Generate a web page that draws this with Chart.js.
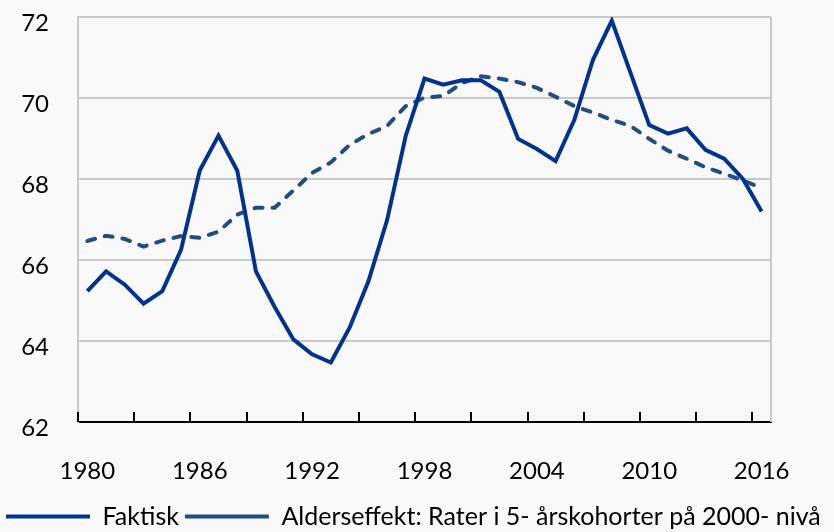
<!DOCTYPE html>
<html lang="no">
<head>
  <meta charset="UTF-8">
  <title>Faktisk og alderseffekt</title>
  <script src="https://cdn.jsdelivr.net/npm/chart.js"></script>
  <style>
    html, body { margin: 0; padding: 0; background: #f9f9f9; }
    #wrap { width: 834px; height: 532px; position: relative; }
  </style>
</head>
<body>
  <div id="wrap"><canvas id="chart"></canvas></div>

  <script>
    const years = [];
    for (let y = 1980; y <= 2016; y++) years.push(String(y));

    const faktisk = [
      65.23, 65.72, 65.39, 64.92, 65.23, 66.25, 68.21, 69.07, 68.21, 65.72,
      64.84, 64.04, 63.67, 63.47, 64.33, 65.47, 66.98, 69.07, 70.48, 70.33,
      70.44, 70.44, 70.15, 68.99, 68.74, 68.44, 69.46, 70.95, 71.91, 70.62,
      69.33, 69.12, 69.25, 68.72, 68.50, 68.00, 67.20
    ];

    const alderseffekt = [
      66.47, 66.60, 66.52, 66.33, 66.48, 66.59, 66.55, 66.70, 67.12, 67.29,
      67.29, 67.72, 68.15, 68.41, 68.84, 69.11, 69.31, 69.80, 70.01, 70.05,
      70.37, 70.54, 70.48, 70.39, 70.25, 70.03, 69.80, 69.64, 69.46, 69.31,
      68.99, 68.70, 68.50, 68.29, 68.13, 67.96, 67.78
    ];

    const yTicks = [62, 64, 66, 68, 70, 72];
    const seriesNames = ['Faktisk', 'Alderseffekt: Rater i 5- årskohorter på 2000- nivå'];

    const FONT = "Lato, 'Liberation Sans', sans-serif";

    // inward tick marks every third year + right frame line
    const frame = {
      id: 'frame',
      afterDatasetsDraw(chart) {
        const ctx = chart.ctx;
        const x = chart.scales.x;
        const area = chart.chartArea;
        const half = (x.getPixelForValue(1) - x.getPixelForValue(0)) / 2;
        ctx.save();
        ctx.strokeStyle = '#c9c9c9';
        ctx.lineWidth = 2;
        ctx.beginPath();
        ctx.moveTo(area.right, area.top);
        ctx.lineTo(area.right, area.bottom);
        ctx.stroke();
        ctx.strokeStyle = '#000';
        ctx.lineWidth = 2;
        for (let i = 0; i < years.length; i += 3) {
          const px = Math.round(x.getPixelForValue(i) - half);
          ctx.beginPath();
          ctx.moveTo(px, area.bottom);
          ctx.lineTo(px, area.bottom - 10);
          ctx.stroke();
        }
        ctx.restore();
      }
    };

    new Chart(document.getElementById('chart'), {
      type: 'line',
      data: {
        labels: years,
        datasets: [
          {
            label: seriesNames[0],
            data: faktisk,
            borderColor: '#00338d',
            borderWidth: 4,
            pointRadius: 0,
            tension: 0,
            fill: false
          },
          {
            label: seriesNames[1],
            data: alderseffekt,
            borderColor: '#234d80',
            borderWidth: 4,
            borderDash: [8, 10],
            borderCapStyle: 'round',
            pointRadius: 0,
            tension: 0,
            fill: false
          }
        ]
      },
      options: {
        responsive: true,
        maintainAspectRatio: false,
        animation: false,
        layout: { padding: { top: 17, right: 0, left: 0, bottom: -7 } },
        plugins: {
          tooltip: { enabled: false },
          legend: {
            position: 'bottom',
            align: 'start',
            labels: {
              usePointStyle: true,
              pointStyle: 'line',
              pointStyleWidth: 84,
              padding: 6,
              color: '#000',
              font: { family: FONT, size: 25 }
            }
          }
        },
        scales: {
          x: {
            offset: true,
            grid: { display: false },
            border: { display: true, color: '#000', width: 2 },
            ticks: {
              autoSkip: false,
              maxRotation: 0,
              padding: 27,
              color: '#000',
              font: { family: FONT, size: 24 },
              callback: function (v, i) {
                return (i % 6 === 0) ? years[i] : '';
              }
            },
            afterFit: function (s) { s.height = 76; }
          },
          y: {
            min: 62,
            max: 72,
            afterBuildTicks: function (s) { s.ticks = yTicks.map(v => ({ value: v })); },
            grid: { color: '#c9c9c9', lineWidth: 2, drawTicks: false },
            border: { display: true, color: '#c9c9c9', width: 2 },
            ticks: {
              padding: 29,
              labelOffset: 6,
              color: '#000',
              font: { family: FONT, size: 24 }
            },
            afterFit: function (s) {
              s.width = 78;
              s.paddingTop = 0;
              s.paddingBottom = 0;
            }
          },
          // empty right margin, keeps the legend full width
          yRight: {
            position: 'right',
            grid: { display: false },
            border: { display: false },
            ticks: { display: false },
            afterFit: function (s) { s.width = 63; }
          }
        }
      },
      plugins: [frame]
    });
  </script>
</body>
</html>
